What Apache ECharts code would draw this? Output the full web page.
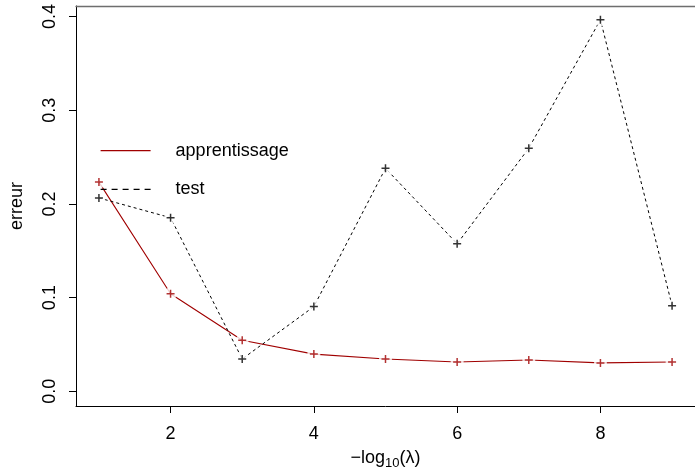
<!DOCTYPE html>
<html>
<head>
<meta charset="utf-8">
<script src="https://cdn.jsdelivr.net/npm/echarts@6/dist/echarts.min.js"></script>
<style>
html,body{margin:0;padding:0;background:#fff;}
#c{width:695px;height:475px;}
</style>
</head>
<body>
<div id="c"></div>
<script>
var xValues = [1, 2, 3, 4, 5, 6, 7, 8, 9];
var trainErr = [0.2233, 0.1041, 0.0545, 0.0397, 0.0345, 0.0313, 0.0334, 0.0303, 0.0313];
var testErr  = [0.2064, 0.1853, 0.0345, 0.0904, 0.2380, 0.1575, 0.2595, 0.3966, 0.0914];
var xTicks = [2, 4, 6, 8];
var yTicks = [0, 0.1, 0.2, 0.3, 0.4];
var seriesNames = ['apprentissage', 'test'];

var RED = '#A00000';
var FONT = '"Liberation Sans", Arial, Helvetica, sans-serif';
var plusPath = 'path://M0,-4L0,4M-4,0L4,0';

function pairs(ys) { return xValues.map(function (x, i) { return [x, ys[i]]; }); }

var chart = echarts.init(document.getElementById('c'), null, {renderer: 'canvas'});
chart.setOption({
  animation: false,
  backgroundColor: '#fff',
  textStyle: {fontFamily: FONT},
  grid: {left: 74, top: 6, width: 631, height: 405, show: false},
  legend: {
    show: true,
    orient: 'vertical',
    left: 100, top: 140.7, padding: 0,
    itemWidth: 50, itemHeight: 20, itemGap: 18.7,
    itemStyle: {opacity: 0},
    textStyle: {fontFamily: FONT, fontSize: 18, color: '#000', lineHeight: 20, padding: [0, 0, 0, 20]},
    data: [
      {name: seriesNames[0], lineStyle: {width: 1.2}},
      {name: seriesNames[1], lineStyle: {type: [6, 5], width: 1.2}}
    ]
  },
  xAxis: [{
    type: 'value', min: 0.68, max: 9.32,
    position: 'bottom',
    name: '{a|\u2212log}{b|10}{a|(\u03bb)}',
    nameLocation: 'middle', nameGap: 40,
    nameTextStyle: {
      rich: {
        a: {fontFamily: FONT, fontSize: 18, lineHeight: 24, color: '#000'},
        b: {fontFamily: FONT, fontSize: 13, lineHeight: 13, color: '#000', verticalAlign: 'bottom'}
      }
    },
    splitLine: {show: false},
    axisLine: {show: true, onZero: false, lineStyle: {color: '#000', width: 1}},
    axisTick: {show: true, length: 7, lineStyle: {color: '#000', width: 1}, customValues: xTicks},
    axisLabel: {fontFamily: FONT, fontSize: 18, color: '#000', margin: 19, customValues: xTicks}
  }, {
    type: 'value', min: 0.68, max: 9.32, position: 'top',
    splitLine: {show: false},
    axisLine: {show: true, onZero: false, lineStyle: {color: '#6e6e6e', width: 1.3}},
    axisTick: {show: false}, axisLabel: {show: false}
  }],
  yAxis: {
    type: 'value', min: -0.0157, max: 0.4113,
    name: 'erreur', nameLocation: 'middle', nameGap: 50,
    nameTextStyle: {fontFamily: FONT, fontSize: 18, color: '#000'},
    splitLine: {show: false},
    axisLine: {show: true, onZero: false, lineStyle: {color: '#000', width: 1}},
    axisTick: {show: true, length: 7, lineStyle: {color: '#000', width: 1}, customValues: yTicks},
    axisLabel: {fontFamily: FONT, fontSize: 18, color: '#000', margin: 17, rotate: 90,
      customValues: yTicks,
      formatter: function (v) { return v.toFixed(1); }}
  },
  series: [
    {name: seriesNames[0], type: 'line', data: pairs(trainErr), symbol: 'none', z: 2,
      lineStyle: {color: RED, width: 1.1}, itemStyle: {color: RED}},
    {name: seriesNames[1], type: 'line', data: pairs(testErr), symbol: 'none', z: 2,
      lineStyle: {color: '#000', width: 1, type: [3, 3]}, itemStyle: {color: '#000'}},
    {type: 'scatter', data: pairs(trainErr).concat(pairs(testErr)), symbol: 'circle', symbolSize: 13, z: 3,
      silent: true, itemStyle: {color: '#fff'}},
    {type: 'scatter', data: pairs(trainErr), symbol: plusPath, symbolSize: 8, z: 4, silent: true,
      itemStyle: {color: 'transparent', borderColor: RED, borderWidth: 1.5}},
    {type: 'scatter', data: pairs(testErr), symbol: plusPath, symbolSize: 8, z: 4, silent: true,
      itemStyle: {color: 'transparent', borderColor: '#000', borderWidth: 1.5}}
  ]
});
</script>
</body>
</html>
